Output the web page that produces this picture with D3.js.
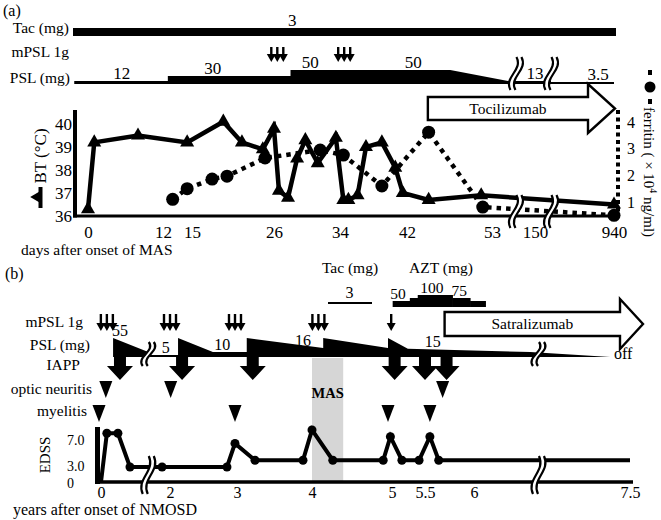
<!DOCTYPE html>
<html>
<head>
<meta charset="utf-8">
<title>Clinical course: MAS and NMOSD</title>
<script src="https://cdn.jsdelivr.net/npm/d3@7"></script>
<style>
  body { margin: 0; background: #fff; }
  text { font-family: "Liberation Serif", "Times New Roman", serif; fill: #000; }
</style>
</head>
<body>
<script>

// ---------- (a) days after onset of MAS ----------

var DAY_TICKS = [0, 12, 15, 26, 34, 42, 53, 150, 940];

var BT_DAYS = [0, 1, 8, 14.5, 19.2, 21.7, 24.5, 26, 26.6, 27.7, 28.8, 29.8,
    31.3, 33.5, 34.4, 35, 36.1, 37.1, 39, 40.6, 41.5, 44.8, 51.6, 940];
var BT_VALUES = [36.3, 39.2, 39.5, 39.2, 40.1, 39.2, 38.9, 39.8, 37.1, 36.8,
    38.5, 39.3, 38.3, 39.4, 36.7, 36.7, 36.9, 39.0, 39.2, 38.1, 37.0, 36.7,
    36.9, 36.5];
var BT_TICKS = [36, 37, 38, 39, 40];

var FERRITIN_DAYS = [13, 14.5, 17.7, 19.7, 24.8, 31.6, 34.4, 39, 44.8, 51.8, 940];
var FERRITIN_VALUES = [1.1, 1.5, 1.86, 1.97, 2.65, 2.95, 2.76, 1.6, 3.62, 0.81, 0.5];
var FERRITIN_TICKS = [1, 2, 3, 4];

// PSL dose steps as [day, mg] corners; labels as [day, mg]
var PSL_A = [[-2.2, 12], [12.5, 12], [12.5, 30], [28, 30], [28, 50],
    [47.6, 50], [89, 13], [310, 13], [310, 3.5], [940, 3.5]];
var PSL_A_LABELS = [[5.4, 12], [17.8, 30], [30.4, 50], [42.8, 50], [150, 13], [780, 3.5]];
var TAC_A = [-2.4, 940];
var TAC_A_DOSE = [[28.2, 3]];
var MPSL_A = [26.4, 34.5];
var TOCILIZUMAB_START = 44.7;
var BREAKS_A = [107, 310];

// ---------- (b) years after onset of NMOSD ----------

var YEAR_TICKS = [0, 2, 3, 4, 5, 5.5, 6, 7.5];

var EDSS_YEARS = [0, 0.17, 0.49, 0.84, 1.77, 2.85, 2.97, 3.24, 3.88, 4.0,
    4.26, 4.89, 4.98, 5.15, 5.41, 5.55, 5.64, 7.5];
var EDSS_VALUES = [0, 8, 8, 3, 3, 3, 6.5, 4, 4, 8.5, 4, 4, 7.5, 4, 4, 7.5, 4, 4];
var EDSS_TICKS = [0, 3, 7];

var PSL_B = [[0.35, 55], [1.37, 10], [1.37, 5], [2.12, 5], [2.12, 55],
    [2.64, 10], [3.13, 10], [3.13, 55], [4.14, 16], [4.14, 55], [4.95, 16],
    [4.95, 55], [5.24, 15], [6.54, 10], [7.31, 0]];
var PSL_B_LABELS = [[0.55, 55], [1.88, 5], [2.78, 10], [3.88, 16], [5.58, 15]];

var MPSL_B = [0.17, 2.0, 2.97, 4.08];
var MPSL_B_SINGLE = [4.99];
var IAPP_YEARS = [0.55, 2.18, 3.21, 5.04, 5.5, 5.72];
var OPTIC_NEURITIS_YEARS = [0.14, 2.01, 5.68];
var MYELITIS_YEARS = [0, 2.97, 4.95, 5.55];

var TAC_B = [4.2, 4.75];
var TAC_B_DOSE = [[4.47, 3]];
var AZT_YEARS = [5.01, 5.27, 5.39, 5.78, 5.96, 6.11];
var AZT_DOSES = [50, 75, 100, 75, 50];
var AZT_LABELS = [[5.09, 50], [5.57, 100], [5.85, 75]];
var MAS_PERIOD = [4.0, 4.39];
var SATRALIZUMAB_START = 5.7;
var BREAKS_B = [1.37, 6.62];

var ROWS_A = ['Tac (mg)', 'mPSL 1g', 'PSL (mg)'];
var ROWS_B = ['mPSL 1g', 'PSL (mg)', 'IAPP', 'optic neuritis', 'myelitis'];

// ---------- scales ----------

var xA = d3.scaleLinear().domain(DAY_TICKS)
    .range([88, 163, 192, 274, 340, 407, 492, 535, 614]);
var yBT = d3.scaleLinear().domain([36, 40]).range([216, 124]);
var yFerritin = d3.scaleLinear().domain([1, 4]).range([202, 122]);
var pslA = d3.scaleLinear().domain([0, 3.5, 13, 50]).range([0, 2, 3, 14]);

var xB = d3.scaleLinear().domain(YEAR_TICKS)
    .range([101, 170, 237, 312, 392, 425, 474, 630]);
var yEDSS = d3.scaleLinear().domain([0, 3, 7]).range([482, 467, 440]);
var pslB = d3.scaleLinear().domain([0, 5, 10, 16, 55]).range([0, 2, 5, 9, 19]);
var aztH = d3.scaleLinear().domain([0, 100]).range([0, 12]);

var svg = d3.select('body').append('svg')
    .attr('width', 661)
    .attr('height', 520);

svg.append('rect').attr('width', 661).attr('height', 520).attr('fill', '#fff');

/**
 * Plain text helper.
 */
function addText(g, x, y, str, size, anchor) {
  return g.append('text')
      .attr('x', x)
      .attr('y', y)
      .attr('font-size', size)
      .attr('text-anchor', anchor || 'start')
      .text(str);
}

/**
 * Filled dose band: corner points on top, flat baseline underneath.
 */
function bandPath(points, x, h, base) {
  var top = points.map(function(p) { return [x(p[0]), base - h(p[1])]; });
  var outline = [[x(points[0][0]), base]].concat(top,
      [[x(points[points.length - 1][0]), base]]);
  return d3.line()(outline) + 'Z';
}

/**
 * Axis break: two wavy strokes with white in between.
 */
function drawBreak(g, x, y0, y1) {
  var h = y1 - y0;
  function curve(dx) {
    return [[x + dx + 3, y0], [x + dx + 10, y0 + h * 0.4],
        [x + dx - 10, y0 + h * 0.6], [x + dx - 3, y1]];
  }
  var a = curve(-2.5);
  var b = curve(2.5);
  g.append('path')
      .attr('d', 'M' + a[0] + 'C' + a[1] + ' ' + a[2] + ' ' + a[3] +
          'L' + b[3] + 'C' + b[2] + ' ' + b[1] + ' ' + b[0] + 'Z')
      .attr('fill', '#fff');
  [a, b].forEach(function(p) {
    g.append('path')
        .attr('d', 'M' + p[0] + 'C' + p[1] + ' ' + p[2] + ' ' + p[3])
        .attr('fill', 'none')
        .attr('stroke', '#000')
        .attr('stroke-width', 2.2);
  });
}

/**
 * Group of small down arrows (mPSL pulses).
 */
function pulseArrows(g, cx, y0, y1, n) {
  for (var i = 0; i < n; i++) {
    var ox = cx + (i - (n - 1) / 2) * 6;
    g.append('line')
        .attr('x1', ox).attr('x2', ox)
        .attr('y1', y0).attr('y2', y1 - 6)
        .attr('stroke', '#000').attr('stroke-width', 2.4);
    g.append('polygon')
        .attr('points', [[ox - 4.5, y1 - 8], [ox + 4.5, y1 - 8], [ox, y1]].join(' '));
  }
}

/**
 * Open block arrow with a label inside (biologic therapy).
 */
function therapyArrow(g, x0, x1, cy, bodyH, headH, headL, label) {
  var xh = x1 - headL;
  var pts = [[x0, cy - bodyH / 2], [xh, cy - bodyH / 2], [xh, cy - headH / 2],
      [x1, cy], [xh, cy + headH / 2], [xh, cy + bodyH / 2], [x0, cy + bodyH / 2]];
  g.append('polygon')
      .attr('points', pts.join(' '))
      .attr('fill', '#fff')
      .attr('stroke', '#000')
      .attr('stroke-width', 2.4)
      .attr('stroke-linejoin', 'miter');
  addText(g, (x0 + xh) / 2, cy + 5, label, 15.5, 'middle');
}

/**
 * Axis labels only: no domain line, no tick marks.
 */
function styleAxis(g, size) {
  g.select('.domain').remove();
  g.attr('font-family', '"Liberation Serif", "Times New Roman", serif')
      .attr('font-size', size);
  g.selectAll('text').attr('fill', '#000');
}

// ================= panel (a) =================

var ga = svg.append('g');

addText(ga, 3, 16, '(a)', 16);
addText(ga, 69, 33, ROWS_A[0], 15.5, 'end');
addText(ga, 69, 57, ROWS_A[1], 15.5, 'end');
addText(ga, 70, 83, ROWS_A[2], 15.5, 'end');

// tacrolimus
ga.append('rect')
    .attr('x', xA(TAC_A[0]))
    .attr('y', 28)
    .attr('width', xA(TAC_A[1]) + 2 - xA(TAC_A[0]))
    .attr('height', 8);
TAC_A_DOSE.forEach(function(d) {
  addText(ga, xA(d[0]), 26, d[1], 17, 'middle');
});

// mPSL pulses
MPSL_A.forEach(function(d) { pulseArrows(ga, xA(d), 47, 62, 3); });

// PSL band
ga.append('path').attr('d', bandPath(PSL_A, xA, pslA, 84));
PSL_A_LABELS.forEach(function(d) {
  addText(ga, xA(d[0]), 84 - pslA(d[1]) - 2, d[1], 17, 'middle');
});
BREAKS_A.forEach(function(d) { drawBreak(ga, xA(d), 57, 90); });

// tocilizumab
therapyArrow(ga, xA(TOCILIZUMAB_START), xA(940) + 1, 108.5, 23, 49, 27, 'Tocilizumab');

// ferritin (dotted)
var ferritin = FERRITIN_DAYS.map(function(d, i) { return [d, FERRITIN_VALUES[i]]; });
ga.append('path')
    .attr('d', d3.line()
        .x(function(d) { return xA(d[0]); })
        .y(function(d) { return yFerritin(d[1]); })(ferritin))
    .attr('fill', 'none')
    .attr('stroke', '#000')
    .attr('stroke-width', 4.5)
    .attr('stroke-dasharray', '4.5 5');

// body temperature
var bt = BT_DAYS.map(function(d, i) { return [d, BT_VALUES[i]]; });
ga.append('path')
    .attr('d', d3.line()
        .x(function(d) { return xA(d[0]); })
        .y(function(d) { return yBT(d[1]); })(bt))
    .attr('fill', 'none')
    .attr('stroke', '#000')
    .attr('stroke-width', 4.5)
    .attr('stroke-linejoin', 'miter');

ga.selectAll('.ferritin-dot').data(ferritin).enter().append('circle')
    .attr('class', 'ferritin-dot')
    .attr('cx', function(d) { return xA(d[0]); })
    .attr('cy', function(d) { return yFerritin(d[1]); })
    .attr('r', 6.5);

ga.selectAll('.bt-mark').data(bt).enter().append('path')
    .attr('class', 'bt-mark')
    .attr('transform', function(d) {
      return 'translate(' + xA(d[0]) + ',' + yBT(d[1]) + ')';
    })
    .attr('d', d3.symbol().type(d3.symbolTriangle).size(85));

// axes
ga.append('line').attr('x1', 73).attr('x2', 618).attr('y1', 216).attr('y2', 216)
    .attr('stroke', '#000').attr('stroke-width', 3);
ga.append('line').attr('x1', 75).attr('x2', 75).attr('y1', 110).attr('y2', 217.5)
    .attr('stroke', '#000').attr('stroke-width', 4);
ga.append('line').attr('x1', 618).attr('x2', 618).attr('y1', 110).attr('y2', 216)
    .attr('stroke', '#000').attr('stroke-width', 4)
    .attr('stroke-dasharray', '4 3.5');

BREAKS_A.forEach(function(d) { drawBreak(ga, xA(d), 195, 228); });

var axA = ga.append('g')
    .attr('transform', 'translate(0,216)')
    .call(d3.axisBottom(xA).tickValues(DAY_TICKS).tickSize(0).tickPadding(10)
        .tickFormat(d3.format('d')));
styleAxis(axA, 17);

var axBT = ga.append('g')
    .attr('transform', 'translate(75,0)')
    .call(d3.axisLeft(yBT).tickValues(BT_TICKS).tickSize(0).tickPadding(3)
        .tickFormat(d3.format('d')));
styleAxis(axBT, 17);

var axF = ga.append('g')
    .attr('transform', 'translate(618,0)')
    .call(d3.axisRight(yFerritin).tickValues(FERRITIN_TICKS).tickSize(0).tickPadding(9)
        .tickFormat(d3.format('d')));
styleAxis(axF, 16);

addText(ga, 21, 255, 'days after onset of MAS', 15.5);

// BT title with its legend mark
ga.append('text')
    .attr('transform', 'translate(46,156) rotate(-90)')
    .attr('font-size', 17)
    .attr('text-anchor', 'middle')
    .text('BT (°C)');
ga.append('line').attr('x1', 40.5).attr('x2', 40.5).attr('y1', 187).attr('y2', 208)
    .attr('stroke', '#000').attr('stroke-width', 4);
ga.append('path')
    .attr('transform', 'translate(37,197) rotate(-90)')
    .attr('d', d3.symbol().type(d3.symbolTriangle).size(60));

// ferritin title with its legend mark
ga.append('rect').attr('x', 648).attr('y', 70).attr('width', 4).attr('height', 5);
ga.append('circle').attr('cx', 650).attr('cy', 87).attr('r', 5.5);
ga.append('rect').attr('x', 648).attr('y', 99).attr('width', 4).attr('height', 5);
var ft = ga.append('text')
    .attr('transform', 'translate(644,107) rotate(90)')
    .attr('font-size', 15);
ft.append('tspan').text('ferritin ( × 10');
ft.append('tspan').attr('font-size', 10).attr('dy', -6).text('4');
ft.append('tspan').attr('dy', 6).text(' ng/ml)');

// ================= panel (b) =================

var gb = svg.append('g');

gb.append('rect')
    .attr('x', xB(MAS_PERIOD[0]))
    .attr('y', 358)
    .attr('width', xB(MAS_PERIOD[1]) - xB(MAS_PERIOD[0]))
    .attr('height', 124)
    .attr('fill', '#d6d6d6');
addText(gb, (xB(MAS_PERIOD[0]) + xB(MAS_PERIOD[1])) / 2, 398, 'MAS', 14.5, 'middle')
    .attr('font-weight', 'bold');

addText(gb, 5, 279, '(b)', 16);
addText(gb, 83, 327, ROWS_B[0], 15.5, 'end');
addText(gb, 90, 350, ROWS_B[1], 15.5, 'end');
addText(gb, 80, 370, ROWS_B[2], 15.5, 'end');
addText(gb, 92, 394, ROWS_B[3], 15.5, 'end');
addText(gb, 87, 416, ROWS_B[4], 15.5, 'end');

// tacrolimus and azathioprine
addText(gb, (xB(TAC_B[0]) + xB(TAC_B[1])) / 2, 273, 'Tac (mg)', 15.5, 'middle');
gb.append('line')
    .attr('x1', xB(TAC_B[0])).attr('x2', xB(TAC_B[1]))
    .attr('y1', 303).attr('y2', 303)
    .attr('stroke', '#000').attr('stroke-width', 2);
TAC_B_DOSE.forEach(function(d) {
  addText(gb, xB(d[0]), 298, d[1], 16, 'middle');
});

addText(gb, 441, 273, 'AZT (mg)', 15.5, 'middle');
AZT_DOSES.forEach(function(dose, i) {
  gb.append('rect')
      .attr('x', xB(AZT_YEARS[i]))
      .attr('y', 307 - aztH(dose))
      .attr('width', xB(AZT_YEARS[i + 1]) - xB(AZT_YEARS[i]) + 0.5)
      .attr('height', aztH(dose));
});
AZT_LABELS.forEach(function(d) {
  addText(gb, xB(d[0]), 307 - aztH(d[1]) - 2.5, d[1], 15.5, 'middle');
});

// satralizumab
therapyArrow(gb, xB(SATRALIZUMAB_START), xB(7.5) + 13, 324, 24, 50, 23, 'Satralizumab');

// mPSL pulses
MPSL_B.forEach(function(d) { pulseArrows(gb, xB(d), 314, 331, 3); });
MPSL_B_SINGLE.forEach(function(d) { pulseArrows(gb, xB(d), 314, 331, 1); });

// PSL band
gb.append('path').attr('d', bandPath(PSL_B, xB, pslB, 357));
PSL_B_LABELS.forEach(function(d) {
  addText(gb, xB(d[0]), 357 - pslB(d[1]) - 2, d[1], 16, 'middle');
});
addText(gb, 614, 359, 'off', 16);
BREAKS_B.forEach(function(d) { drawBreak(gb, xB(d), 342, 366); });

// IAPP
IAPP_YEARS.forEach(function(d) {
  var cx = xB(d);
  gb.append('polygon')
      .attr('points', [[cx - 6, 357], [cx + 6, 357], [cx + 6, 366], [cx + 13, 366],
          [cx, 380], [cx - 13, 366], [cx - 6, 366]].join(' '));
});

// relapses
OPTIC_NEURITIS_YEARS.forEach(function(d) {
  var cx = xB(d);
  gb.append('polygon').attr('points', [[cx - 6.5, 381], [cx + 6.5, 381], [cx, 398]].join(' '));
});
MYELITIS_YEARS.forEach(function(d) {
  var cx = xB(d) - (d === 0 ? 2 : 0);
  gb.append('polygon').attr('points', [[cx - 6.5, 405], [cx + 6.5, 405], [cx, 422]].join(' '));
});

// EDSS
var edss = EDSS_YEARS.map(function(d, i) { return [d, EDSS_VALUES[i]]; });
gb.append('path')
    .attr('d', d3.line()
        .x(function(d) { return xB(d[0]); })
        .y(function(d) { return yEDSS(d[1]); })(edss))
    .attr('fill', 'none')
    .attr('stroke', '#000')
    .attr('stroke-width', 4)
    .attr('stroke-linejoin', 'miter');

gb.selectAll('.edss-dot').data(edss.slice(1, -1)).enter().append('circle')
    .attr('class', 'edss-dot')
    .attr('cx', function(d) { return xB(d[0]); })
    .attr('cy', function(d) { return yEDSS(d[1]); })
    .attr('r', 4.5);

gb.append('line').attr('x1', 97).attr('x2', 633).attr('y1', 482).attr('y2', 482)
    .attr('stroke', '#000').attr('stroke-width', 3.5);
gb.append('line').attr('x1', 97.5).attr('x2', 97.5).attr('y1', 427).attr('y2', 484)
    .attr('stroke', '#000').attr('stroke-width', 5);

BREAKS_B.forEach(function(d) { drawBreak(gb, xB(d), 456, 494); });

var axB = gb.append('g')
    .attr('transform', 'translate(0,482)')
    .call(d3.axisBottom(xB).tickValues(YEAR_TICKS).tickSize(0).tickPadding(5)
        .tickFormat(function(d) { return String(d); }));
styleAxis(axB, 16);

var axE = gb.append('g')
    .attr('transform', 'translate(97,0)')
    .call(d3.axisLeft(yEDSS).tickValues(EDSS_TICKS).tickSize(0)
        .tickFormat(function(d) { return d === 0 ? '0' : d.toFixed(1); }));
styleAxis(axE, 14);
axE.selectAll('text')
    .attr('text-anchor', 'start')
    .attr('x', -30)
    .attr('y', function(d) { return d === 0 ? 1.5 : (d === 3 ? -1 : 0); });

gb.append('text')
    .attr('transform', 'translate(50,455) rotate(-90)')
    .attr('font-size', 15)
    .attr('text-anchor', 'middle')
    .text('EDSS');

addText(gb, 13, 515, 'years after onset of NMOSD', 16);

</script>
</body>
</html>
